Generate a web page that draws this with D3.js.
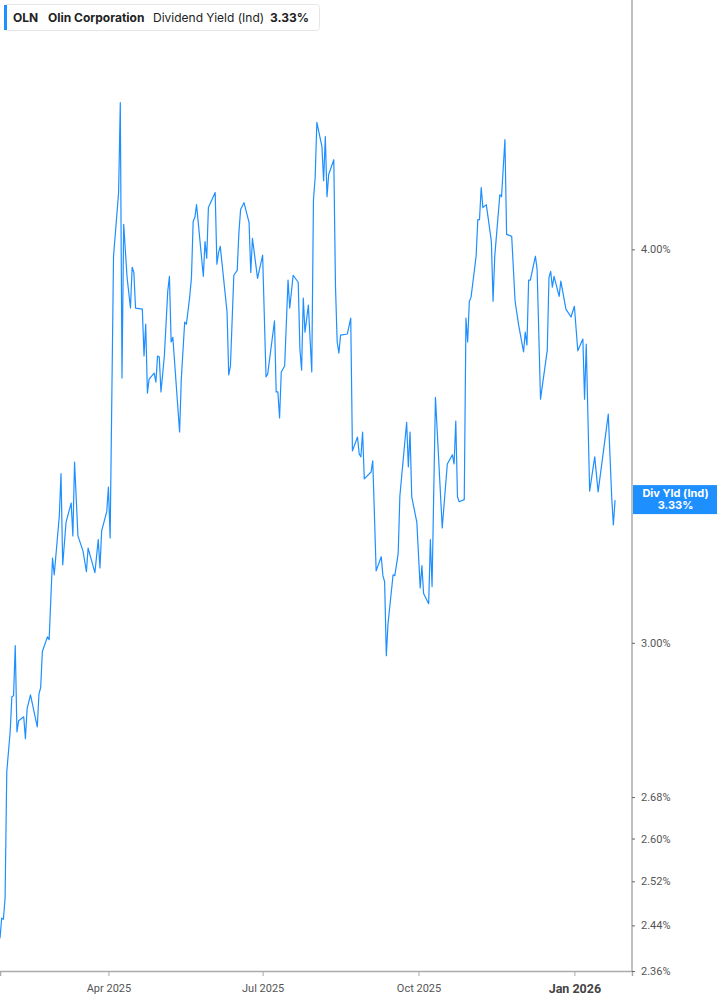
<!DOCTYPE html>
<html>
<head>
<meta charset="utf-8">
<script src="https://cdn.jsdelivr.net/npm/d3@7"></script>
<style>
  body { margin: 0; background: #fff; }
</style>
</head>
<body>
<div id="chart"></div>
<script>
const dates = [
  "2025-01-27","2025-01-28","2025-01-29","2025-01-30","2025-01-31","2025-02-02","2025-02-03","2025-02-04","2025-02-05","2025-02-06",
  "2025-02-07","2025-02-10","2025-02-11","2025-02-12","2025-02-14","2025-02-18","2025-02-19","2025-02-20","2025-02-21","2025-02-24",
  "2025-02-25","2025-02-27","2025-02-28","2025-03-03","2025-03-04","2025-03-05","2025-03-07","2025-03-10","2025-03-11","2025-03-12",
  "2025-03-14","2025-03-17","2025-03-19","2025-03-20","2025-03-24","2025-03-26","2025-03-27","2025-03-28","2025-03-31","2025-04-01",
  "2025-04-02","2025-04-04","2025-04-07","2025-04-08","2025-04-09","2025-04-10","2025-04-12","2025-04-14","2025-04-15","2025-04-16",
  "2025-04-17","2025-04-21","2025-04-22","2025-04-23","2025-04-24","2025-04-25","2025-04-28","2025-04-29","2025-04-30","2025-05-01",
  "2025-05-02","2025-05-04","2025-05-06","2025-05-07","2025-05-08","2025-05-09","2025-05-13","2025-05-14","2025-05-16","2025-05-17",
  "2025-05-19","2025-05-20","2025-05-21","2025-05-22","2025-05-23","2025-05-27","2025-05-28","2025-05-29","2025-05-30","2025-06-03",
  "2025-06-04","2025-06-05","2025-06-06","2025-06-10","2025-06-11","2025-06-12","2025-06-14","2025-06-16","2025-06-17","2025-06-18",
  "2025-06-20","2025-06-23","2025-06-24","2025-06-25","2025-06-28","2025-07-01","2025-07-03","2025-07-04","2025-07-08","2025-07-09",
  "2025-07-10","2025-07-11","2025-07-12","2025-07-14","2025-07-16","2025-07-17","2025-07-19","2025-07-22","2025-07-23","2025-07-24",
  "2025-07-25","2025-07-26","2025-07-28","2025-07-30","2025-07-31","2025-08-01","2025-08-02","2025-08-05","2025-08-06","2025-08-07",
  "2025-08-08","2025-08-09","2025-08-12","2025-08-13","2025-08-14","2025-08-15","2025-08-16","2025-08-20","2025-08-22","2025-08-23",
  "2025-08-26","2025-08-27","2025-08-28","2025-08-29","2025-08-30","2025-09-03","2025-09-04","2025-09-06","2025-09-09","2025-09-10",
  "2025-09-11","2025-09-12","2025-09-13","2025-09-16","2025-09-17","2025-09-19","2025-09-20","2025-09-24","2025-09-25","2025-09-26",
  "2025-09-27","2025-09-30","2025-10-02","2025-10-03","2025-10-04","2025-10-07","2025-10-08","2025-10-09","2025-10-11","2025-10-15",
  "2025-10-18","2025-10-21","2025-10-22","2025-10-23","2025-10-24","2025-10-25","2025-10-28","2025-10-29","2025-10-30","2025-10-31",
  "2025-11-01","2025-11-04","2025-11-05","2025-11-06","2025-11-07","2025-11-08","2025-11-10","2025-11-11","2025-11-13","2025-11-14",
  "2025-11-15","2025-11-18","2025-11-19","2025-11-21","2025-11-22","2025-11-25","2025-11-27","2025-11-29","2025-12-02","2025-12-03",
  "2025-12-04","2025-12-05","2025-12-06","2025-12-09","2025-12-10","2025-12-12","2025-12-16","2025-12-17","2025-12-18","2025-12-19",
  "2025-12-20","2025-12-23","2025-12-24","2025-12-27","2025-12-30","2026-01-01","2026-01-03","2026-01-06","2026-01-07","2026-01-08",
  "2026-01-10","2026-01-13","2026-01-15","2026-01-21","2026-01-23","2026-01-24","2026-01-25"
];

// dividend yield in percent
const yieldValues = [
  2.417,2.453,2.451,2.489,2.730,2.811,2.884,2.886,2.994,2.811,
  2.834,2.842,2.797,2.859,2.888,2.821,2.890,2.903,2.981,3.013,
  3.007,3.192,3.153,3.291,3.395,3.176,3.277,3.323,3.244,3.424,
  3.244,3.208,3.160,3.215,3.158,3.235,3.169,3.256,3.302,3.362,
  3.239,3.980,4.170,4.453,3.641,4.074,3.919,3.832,3.948,3.933,
  3.832,3.829,3.700,3.787,3.601,3.638,3.654,3.630,3.700,3.697,
  3.604,3.700,3.879,3.922,3.738,3.751,3.500,3.638,3.793,3.787,
  3.865,3.919,4.082,4.094,4.133,3.922,4.023,3.974,4.124,4.170,
  3.957,3.991,4.009,3.821,3.649,3.673,3.925,3.939,4.050,4.118,
  4.139,4.079,3.933,4.032,3.916,3.983,3.644,3.652,3.796,3.604,
  3.604,3.536,3.657,3.673,3.911,3.832,3.925,3.905,3.719,3.662,
  3.860,3.765,3.840,3.657,4.148,4.215,4.389,4.312,4.206,4.344,
  4.157,4.225,4.271,3.893,3.738,3.708,3.757,3.760,3.804,3.452,
  3.487,3.444,3.437,3.500,3.382,3.399,3.427,3.162,3.195,3.151,
  3.137,2.972,3.042,3.153,3.151,3.202,3.340,3.525,3.412,3.500,
  3.338,3.277,3.123,3.174,3.110,3.087,3.235,3.126,3.590,3.263,
  3.419,3.442,3.419,3.528,3.338,3.326,3.331,3.804,3.738,3.851,
  3.862,3.980,4.088,4.088,4.185,4.124,4.133,4.097,4.023,3.851,
  3.980,4.163,4.157,4.334,4.044,4.038,3.851,3.787,3.711,3.765,
  3.730,3.911,3.911,3.980,3.942,3.585,3.716,3.919,3.936,3.891,
  3.922,3.865,3.908,3.829,3.807,3.837,3.714,3.746,3.585,3.732,
  3.352,3.437,3.350,3.546,3.338,3.270,3.33
];

const xTickDates = ["2025-04-01", "2025-07-01", "2025-10-01", "2026-01-01"];
const xTickLabels = ["Apr 2025", "Jul 2025", "Oct 2025", "Jan 2026"];
const yTickValues = [2.36, 2.44, 2.52, 2.60, 2.68, 3.00, 4.00];

const ticker = "OLN";
const companyName = "Olin Corporation";
const metricName = "Dividend Yield (Ind)";
const shortMetric = "Div Yld (Ind)";

const BLUE = "#1e8fff";
const WIDTH = 717, HEIGHT = 1005;
const plotRight = 632, plotBottom = 971;

const parse = d3.timeParse("%Y-%m-%d");
const series = dates.map((d, i) => ({date: parse(d), value: yieldValues[i]}));
const lastValue = yieldValues[yieldValues.length - 1];

const svg = d3.select("#chart")
  .append("svg")
  .attr("width", WIDTH)
  .attr("height", HEIGHT)
  .style("font-family", "Inter, 'Noto Sans', sans-serif");

const xScale = d3.scaleTime()
  .domain([new Date(2025, 0, 27), new Date(2026, 1, 4)])
  .range([0, plotRight]);

const yScale = d3.scaleLog()
  .domain([2.36, 4.8])
  .range([plotBottom, 0]);

// line
const line = d3.line()
  .x(d => xScale(d.date))
  .y(d => yScale(d.value));

svg.append("path")
  .datum(series)
  .attr("d", line)
  .attr("fill", "none")
  .attr("stroke", BLUE)
  .attr("stroke-width", 1.2)
  .attr("stroke-linejoin", "round");

// bottom axis
const xAxis = d3.axisBottom(xScale)
  .tickValues(xTickDates.map(parse))
  .tickSize(5)
  .tickFormat((d, i) => xTickLabels[i]);

const gx = svg.append("g")
  .attr("transform", `translate(0,${plotBottom})`)
  .call(xAxis);
gx.select(".domain").attr("stroke", "#aaa").attr("stroke-width", 1.5);
gx.selectAll(".tick line").attr("stroke", "#aaa");
gx.selectAll(".tick text")
  .attr("dy", "1.15em")
  .attr("fill", "#555")
  .style("font-family", "Roboto, sans-serif")
  .style("font-size", "11px");
gx.selectAll(".tick text")
  .filter((d, i) => i === xTickLabels.length - 1)
  .attr("fill", "#444")
  .style("font-weight", "bold")
  .style("font-size", "12.5px");

// right axis
const yAxis = d3.axisRight(yScale)
  .tickValues(yTickValues)
  .tickSize(3)
  .tickPadding(6)
  .tickFormat(d => d3.format(".2f")(d) + "%");

const gy = svg.append("g")
  .attr("transform", `translate(${plotRight},0)`)
  .call(yAxis);
gy.select(".domain").attr("stroke", "#aaa").attr("stroke-width", 1.5)
  .attr("d", `M0,0V${plotBottom}`);
gy.selectAll(".tick line").attr("stroke", "#666");
gy.selectAll(".tick text")
  .attr("fill", "#555")
  .style("font-family", "Roboto, sans-serif")
  .style("font-size", "11px");

// last value label
const labelY = yScale(lastValue);
const tag = svg.append("g").attr("transform", `translate(${plotRight + 1},${labelY})`);
tag.append("rect")
  .attr("x", 0)
  .attr("y", -15)
  .attr("width", WIDTH - plotRight - 1)
  .attr("height", 29)
  .attr("fill", BLUE);
tag.append("text")
  .attr("x", (WIDTH - plotRight) / 2)
  .attr("y", -3)
  .attr("text-anchor", "middle")
  .attr("fill", "#fff")
  .style("font-size", "11px")
  .style("font-weight", "bold")
  .text(shortMetric);
tag.append("text")
  .attr("x", (WIDTH - plotRight) / 2)
  .attr("y", 9)
  .attr("text-anchor", "middle")
  .attr("fill", "#fff")
  .style("font-size", "11px")
  .style("font-weight", "bold")
  .text(d3.format(".2f")(lastValue) + "%");

// header legend box
const header = svg.append("g");
header.append("rect")
  .attr("x", 4.5)
  .attr("y", 4.5)
  .attr("width", 315)
  .attr("height", 26)
  .attr("rx", 3)
  .attr("fill", "#fff")
  .attr("stroke", "#e6e6e6");
header.append("rect")
  .attr("x", 4)
  .attr("y", 5)
  .attr("width", 3)
  .attr("height", 25)
  .attr("fill", BLUE);

const headerText = header.append("text")
  .attr("y", 21.5)
  .attr("fill", "#222")
  .style("font-size", "12px");
headerText.append("tspan").attr("x", 13).style("font-weight", "bold").text(ticker);
headerText.append("tspan").attr("x", 48).style("font-weight", "bold").text(companyName);
headerText.append("tspan").attr("x", 153).style("font-weight", "normal").text(metricName);
headerText.append("tspan").attr("x", 270).style("font-weight", "bold").text(d3.format(".2f")(lastValue) + "%");
</script>
</body>
</html>
